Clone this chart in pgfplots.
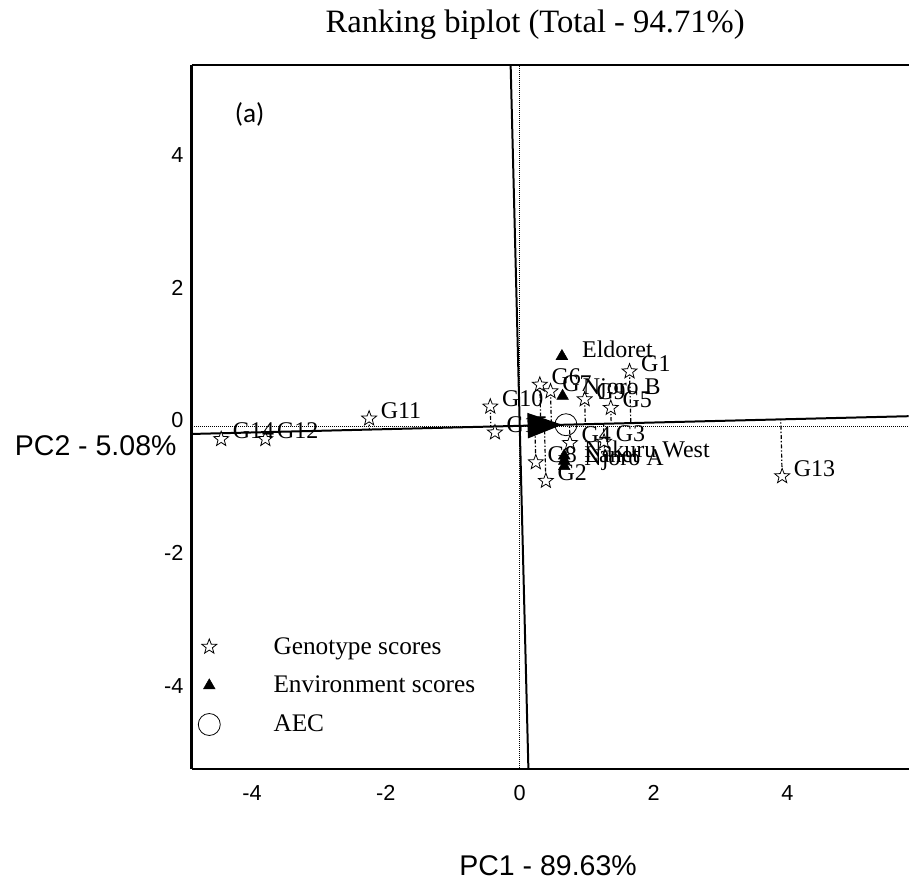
\documentclass[border=0pt]{standalone}
\usepackage{fontspec}
\setmainfont{Liberation Serif}
\newfontfamily\arialf{Liberation Sans}
\newfontfamily\calibrif{Carlito}
\usepackage{pgfplots}
\pgfplotsset{compat=1.18}
\usepackage{pgfplotstable}
\usetikzlibrary{arrows.meta}

\pgfdeclareplotmark{ostar}{%
 \pgfpathmoveto{\pgfpointpolar{90}{\pgfplotmarksize}}%
 \pgfpathlineto{\pgfpointpolar{126}{0.42\pgfplotmarksize}}%
 \pgfpathlineto{\pgfpointpolar{162}{\pgfplotmarksize}}%
 \pgfpathlineto{\pgfpointpolar{198}{0.42\pgfplotmarksize}}%
 \pgfpathlineto{\pgfpointpolar{234}{\pgfplotmarksize}}%
 \pgfpathlineto{\pgfpointpolar{270}{0.42\pgfplotmarksize}}%
 \pgfpathlineto{\pgfpointpolar{306}{\pgfplotmarksize}}%
 \pgfpathlineto{\pgfpointpolar{342}{0.42\pgfplotmarksize}}%
 \pgfpathlineto{\pgfpointpolar{18}{\pgfplotmarksize}}%
 \pgfpathlineto{\pgfpointpolar{54}{0.42\pgfplotmarksize}}%
 \pgfpathclose
 \pgfusepathqfillstroke
}

\pgfplotstableread[col sep=comma]{
x,y,lab
1.64,0.82,G1
0.39,-0.83,G2
1.26,-0.24,G3
0.75,-0.26,G4
1.36,0.27,G5
0.30,0.62,G6
0.46,0.52,G7
0.24,-0.55,G8
0.97,0.40,G9
-0.44,0.29,G10
-2.25,0.11,G11
-3.80,-0.20,G12
3.92,-0.76,G13
-4.46,-0.20,G14
-0.37,-0.10,G15
}\genotypes

\pgfplotstableread[col sep=comma]{
x,y,lab
0.63,1.05,Eldoret
0.64,0.45,Njoro B
0.665,-0.45,Nakuru West
0.665,-0.53,Lanet
0.665,-0.61,Njoro A
}\environments

\begin{document}
\begin{tikzpicture}
\begin{axis}[
  width=538.5pt, height=528.75pt, scale only axis,
  xmin=-4.90, xmax=5.81, ymin=-5.17, ymax=5.44,
  clip mode=individual,
  axis x line*=bottom, axis y line*=left,
  axis line style={line width=2pt},
  tick style={draw=none},
  xtick={-4,-2,0,2,4}, xticklabels={-4,-2,0,2,4},
  ytick={-4,-2,0,2,4}, yticklabels={-4,-2,0,2,4},
  xticklabel style={font=\arialf\fontsize{16.3}{18}\selectfont, inner sep=0pt, yshift=-12pt},
  yticklabel style={font=\arialf\fontsize{16.3}{18}\selectfont, inner sep=0pt, xshift=-6pt, yshift=4pt},
  xlabel={PC1 - 89.63\%},
  ylabel={PC2 - 5.08\%},
  every axis x label/.style={at={(rel axis cs:0.497,0)}, anchor=center, yshift=-72.75pt, font=\arialf\fontsize{21.4}{24}\selectfont},
  every axis y label/.style={at={(rel axis cs:0,0.4596)}, anchor=east, xshift=-11.25pt, font=\arialf\fontsize{21.4}{24}\selectfont, inner sep=0pt},
  legend style={draw=none, fill=none, at={(rel axis cs:0.0088,0.189)}, anchor=north west,
    font=\fontsize{19}{21}\selectfont, row sep=13pt, column sep=39pt, inner sep=0pt,
    nodes={inner sep=1pt}},
  legend cell align=left,
]
\coordinate (SW) at (rel axis cs:0,0);
% reference dotted axes
\addplot[black, line width=0.5pt, densely dotted, forget plot] coordinates {(-6,0) (7,0)};
\addplot[black, line width=0.5pt, densely dotted, forget plot] coordinates {(0,-6) (0,6)};
% AEC abscissa and ordinate
\addplot[black, line width=1.5pt, forget plot] coordinates {(-6,-0.15) (7,0.175)};
\addplot[black, line width=1.5pt, forget plot] coordinates {(-0.15,6) (0.15,-6)};
% projections of genotypes on the AEC abscissa
\addplot[black, line width=0.9pt, dash pattern=on 3pt off 1.5pt on 1pt off 1.5pt, unbounded coords=jump, forget plot] coordinates {
(1.64,0.82) (1.659,0.041) (nan,nan)
(0.39,-0.83) (0.369,0.009) (nan,nan)
(1.26,-0.24) (1.253,0.031) (nan,nan)
(0.75,-0.26) (0.743,0.019) (nan,nan)
(1.36,0.27) (1.366,0.034) (nan,nan)
(0.30,0.62) (0.315,0.008) (nan,nan)
(0.46,0.52) (0.473,0.012) (nan,nan)
(0.24,-0.55) (0.226,0.006) (nan,nan)
(0.97,0.40) (0.979,0.024) (nan,nan)
(-0.44,0.29) (-0.432,-0.011) (nan,nan)
(-2.25,0.11) (-2.246,-0.056) (nan,nan)
(-3.80,-0.20) (-3.803,-0.095) (nan,nan)
(3.92,-0.76) (3.899,0.097) (nan,nan)
(-4.46,-0.20) (-4.462,-0.112) (nan,nan)
(-0.37,-0.10) (-0.372,-0.009)
};
% genotypes
\addplot[only marks, mark=ostar, mark size=5.9pt, mark options={fill=white, draw=black, line width=0.6pt},
  nodes near coords, point meta=explicit symbolic,
  nodes near coords style={anchor=west, inner sep=0pt, xshift=8.5pt, yshift=6pt, font=\fontsize{18}{18}\selectfont, text=black}]
  table[x=x, y=y, meta=lab] {\genotypes};
\addlegendentry{Genotype scores}
% environments
\addplot[only marks, mark=triangle*, mark size=5pt, mark options={fill=black, draw=black},
  nodes near coords, point meta=explicit symbolic,
  nodes near coords style={anchor=west, inner sep=0pt, xshift=15pt, yshift=5pt, font=\fontsize{18}{18}\selectfont, text=black}]
  table[x=x, y=y, meta=lab] {\environments};
\addlegendentry{Environment scores}
% AEC
\addplot[only marks, mark=o, mark size=8.25pt, mark options={draw=black, line width=0.6pt}] coordinates {(0.69,0.017)};
\addlegendentry{AEC}
% AEC arrow
\addplot[black, line width=1pt, -{Triangle[length=26pt, width=19pt]}, forget plot] coordinates {(0,0) (0.634,0.016)};
\draw[line width=2pt] (rel axis cs:0,1) -- (rel axis cs:1,1);
\node[font=\calibrif\fontsize{20.5}{22}\selectfont, anchor=center] at (rel axis cs:0.0808,0.929) {(a)};
\node[font=\fontsize{24.5}{26}\selectfont, anchor=base] at (rel axis cs:0.479,1) [yshift=24.5pt] {Ranking biplot (Total - 94.71\%)};
\end{axis}
\path (SW) ++(-144pt,-86.25pt) rectangle ++(682.5pt,663.75pt);
\end{tikzpicture}
\end{document}
